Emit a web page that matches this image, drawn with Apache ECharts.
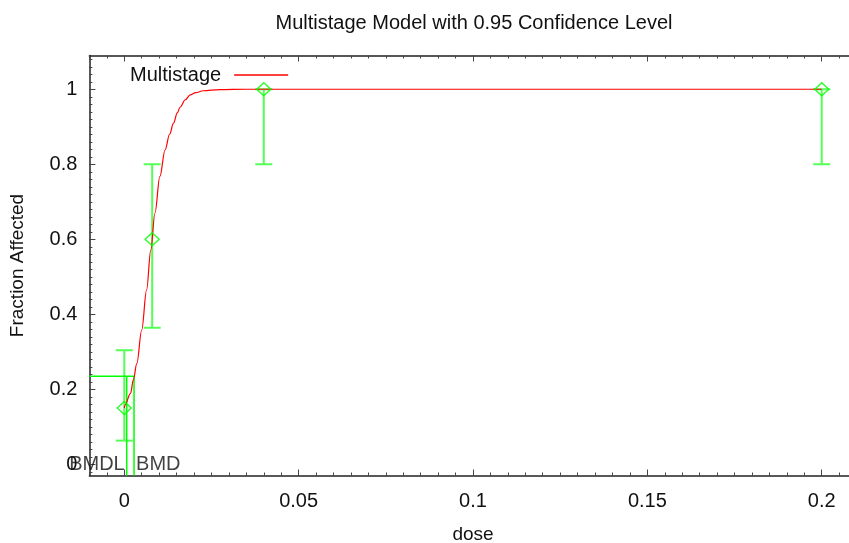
<!DOCTYPE html>
<html>
<head>
<meta charset="utf-8">
<script src="https://cdn.jsdelivr.net/npm/echarts@6/dist/echarts.min.js"></script>
<style>
html,body{margin:0;padding:0;background:#fff;}
#chart{width:849px;height:543px;}
</style>
</head>
<body>
<div id="chart"></div>
<script>
// Observed data
const doses = [0, 0.008, 0.04, 0.2];
const fractions = [0.15, 0.6, 1, 1];
const lowerCI = [0.063, 0.364, 0.8, 0.8];
const upperCI = [0.304, 0.8, 1, 1];

// Fitted multistage curve
const curveDose = [0, 0.0002, 0.0018, 0.0026, 0.0036, 0.005, 0.0064, 0.0076, 0.0088, 0.0102, 0.0117, 0.013, 0.0141, 0.0152, 0.016, 0.0175, 0.0189, 0.0205, 0.0226, 0.0274, 0.035, 0.2];
const curveFrac = [0.15, 0.158, 0.189, 0.225, 0.269, 0.358, 0.465, 0.571, 0.670, 0.767, 0.838, 0.880, 0.909, 0.937, 0.952, 0.972, 0.985, 0.991, 0.996, 0.999, 1, 1];

// BMD markers
const bmdl = 0.0007;
const bmd = 0.0028;
const bmrResponse = 0.235;

// Tick labels
const xTicks = [0, 0.05, 0.1, 0.15, 0.2];
const yTicks = [0, 0.2, 0.4, 0.6, 0.8, 1];

const xMin = -0.01, xMax = 0.21, yMin = -0.03, yMax = 1.09;
const xMinor = []; for (let i = -2; i <= 42; i++) xMinor.push(+(i * 0.005).toFixed(4));
const yMinor = []; for (let i = -1; i <= 54; i++) yMinor.push(+(i * 0.02).toFixed(4));

const FONT = 'Liberation Sans, Arial, Helvetica, sans-serif';
const AX = '#222';
const GREEN = '#00ff00';
const EB = '#55ff55';

function fmt(v){ return String(+v.toFixed(3)); }

function xAxisDef(pos, major, showLabel){
  return {
    type: 'value', position: pos, min: xMin, max: xMax,
    axisLine: { show: major, onZero: false, lineStyle: { color: AX, width: 1.5 } },
    axisTick: { show: true, inside: true, length: major ? 6 : 3, customValues: major ? xTicks : xMinor, lineStyle: { color: '#444' } },
    axisLabel: { show: showLabel, customValues: xTicks, formatter: fmt, color: '#111', fontSize: 20, fontFamily: FONT, margin: 16 },
    splitLine: { show: false },
    name: showLabel ? 'dose' : '', nameLocation: 'middle', nameGap: 50,
    nameTextStyle: { color: '#111', fontSize: 19, fontFamily: FONT }
  };
}
function yAxisDef(major, showLabel){
  return {
    type: 'value', position: 'left', min: yMin, max: yMax,
    axisLine: { show: major, onZero: false, lineStyle: { color: AX, width: 1.5 } },
    axisTick: { show: true, inside: true, length: major ? 6 : 3, customValues: major ? yTicks : yMinor, lineStyle: { color: '#444' } },
    axisLabel: { show: showLabel, customValues: yTicks, formatter: fmt, color: '#111', fontSize: 20, fontFamily: FONT, margin: 12 },
    splitLine: { show: false },
    name: showLabel ? 'Fraction Affected' : '', nameLocation: 'middle', nameGap: 62,
    nameTextStyle: { color: '#111', fontSize: 19, fontFamily: FONT }
  };
}

const chart = echarts.init(document.getElementById('chart'), null, { renderer: 'canvas' });
chart.setOption({
  animation: false,
  backgroundColor: '#fff',
  title: {
    text: 'Multistage Model with 0.95 Confidence Level',
    left: 469, top: 8, textAlign: 'center',
    textStyle: { fontSize: 20, fontWeight: 'normal', color: '#111', fontFamily: FONT }
  },
  legend: {
    data: ['Multistage'], left: 125, top: 60, align: 'right',
    icon: 'rect', itemWidth: 54, itemHeight: 1.5, selectedMode: false,
    textStyle: { fontSize: 20, color: '#111', fontFamily: FONT, padding: [0, 8, 0, 0] }
  },
  grid: { left: 89.4, right: -7.6, top: 55.5, bottom: 67.5, containLabel: false, outerBoundsMode: 'none' },
  xAxis: [
    xAxisDef('bottom', true, true),
    xAxisDef('bottom', false, false),
    xAxisDef('top', true, false),
    xAxisDef('top', false, false)
  ],
  yAxis: [ yAxisDef(true, true), yAxisDef(false, false) ],
  series: [
    {
      name: 'Multistage', type: 'line', xAxisIndex: 0, yAxisIndex: 0,
      data: curveDose.map((d, i) => [d, curveFrac[i]]),
      showSymbol: false, smooth: 0.35, smoothMonotone: 'x',
      lineStyle: { color: '#ff0000', width: 1.2 }, itemStyle: { color: '#ff0000' }, z: 3
    },
    {
      name: 'errorbars', type: 'custom', xAxisIndex: 0, yAxisIndex: 0, clip: false,
      data: doses.map((d, i) => [d, lowerCI[i], upperCI[i]]),
      renderItem: function (params, api) {
        const lo = api.coord([api.value(0), api.value(1)]);
        const hi = api.coord([api.value(0), api.value(2)]);
        const hw = 8.5;
        const st = { stroke: EB, lineWidth: 2 };
        return { type: 'group', children: [
          { type: 'line', shape: { x1: lo[0], y1: lo[1], x2: hi[0], y2: hi[1] }, style: st },
          { type: 'line', shape: { x1: lo[0] - hw, y1: lo[1], x2: lo[0] + hw, y2: lo[1] }, style: st },
          { type: 'line', shape: { x1: hi[0] - hw, y1: hi[1], x2: hi[0] + hw, y2: hi[1] }, style: st }
        ]};
      }, z: 2
    },
    {
      name: 'observed', type: 'scatter', xAxisIndex: 0, yAxisIndex: 0,
      data: doses.map((d, i) => [d, fractions[i]]),
      symbol: 'diamond', symbolSize: [14, 13],
      itemStyle: { color: 'rgba(0,0,0,0)', borderColor: GREEN, borderWidth: 1.5 }, z: 4
    },
    {
      name: 'bmdlines', type: 'custom', xAxisIndex: 0, yAxisIndex: 0, clip: false,
      data: [[bmdl, bmd, bmrResponse]],
      renderItem: function (params, api) {
        const y = api.coord([0, api.value(2)])[1];
        const yBot = api.coord([0, yMin])[1];
        const xL = api.coord([xMin, 0])[0];
        const xBl = api.coord([api.value(0), 0])[0];
        const xB = api.coord([api.value(1), 0])[0];
        const st = { stroke: GREEN, lineWidth: 1.5 };
        return { type: 'group', children: [
          { type: 'line', shape: { x1: xL, y1: y, x2: xB, y2: y }, style: st },
          { type: 'line', shape: { x1: xBl, y1: y, x2: xBl, y2: yBot }, style: st },
          { type: 'line', shape: { x1: xB, y1: y, x2: xB, y2: yBot }, style: st }
        ]};
      }, z: 2
    },
    {
      name: 'bmdlabels', type: 'scatter', xAxisIndex: 0, yAxisIndex: 0,
      symbolSize: 0, silent: true,
      data: [
        { value: [bmdl, 0], label: { show: true, formatter: 'BMDL', position: 'left', distance: 2 } },
        { value: [bmd, 0], label: { show: true, formatter: 'BMD', position: 'right', distance: 2 } }
      ],
      label: { color: '#111', fontSize: 20, fontFamily: FONT }, z: 5
    }
  ]
});
</script>
</body>
</html>
